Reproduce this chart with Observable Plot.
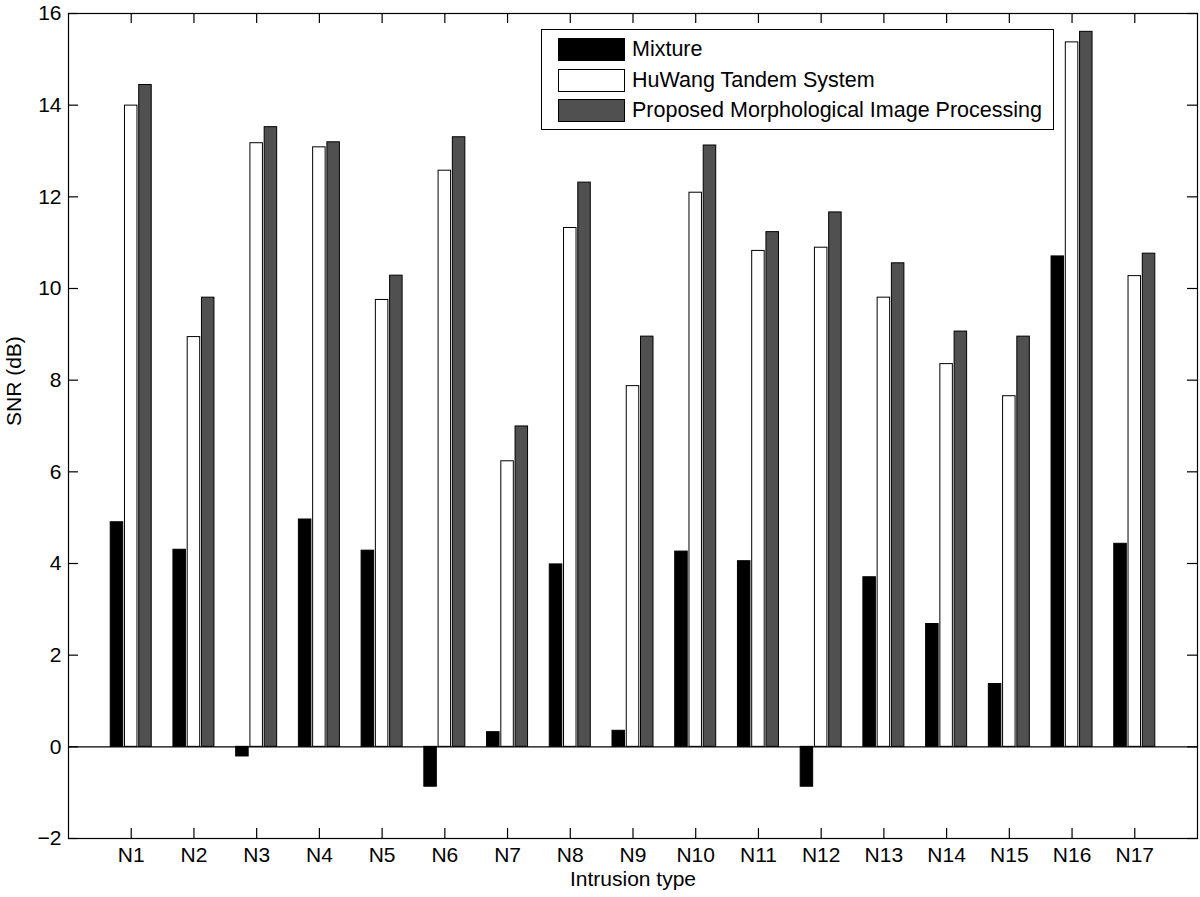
<!DOCTYPE html>
<html>
<head>
<meta charset="utf-8">
<script src="https://cdn.jsdelivr.net/npm/d3@7"></script>
<script src="https://cdn.jsdelivr.net/npm/@observablehq/plot@0.6"></script>
<style>
  html, body { margin: 0; padding: 0; background: #fff; }
  #wrap { position: relative; width: 1200px; height: 897px; font-family: "Liberation Sans", Arial, Helvetica, sans-serif; }
  #legend { position: absolute; left: 541px; top: 29px; width: 511px; height: 99px; border: 1px solid #000; background: #fff; box-sizing: content-box; }
  .row { position: absolute; left: 16px; height: 23px; display: flex; align-items: center; }
  .sw { width: 65px; height: 21px; border: 1px solid #000; margin-right: 7px; }
  .lab { font-size: 21.5px; color: #000; white-space: nowrap; }
</style>
</head>
<body>
<div id="wrap"></div>
<script>
// ---- data ----
const categories = ["N1","N2","N3","N4","N5","N6","N7","N8","N9","N10","N11","N12","N13","N14","N15","N16","N17"];
const seriesNames = ["Mixture", "HuWang Tandem System", "Proposed Morphological Image Processing"];
const mixture  = [4.90, 4.30, -0.21, 4.96, 4.28, -0.87, 0.32, 3.98, 0.35, 4.26, 4.05, -0.87, 3.70, 2.68, 1.37, 10.70, 4.43];
const huwang   = [13.99, 8.94, 13.17, 13.08, 9.75, 12.57, 6.23, 11.32, 7.87, 12.09, 10.82, 10.89, 9.80, 8.35, 7.65, 15.37, 10.27];
const proposed = [14.44, 9.80, 13.52, 13.19, 10.28, 13.30, 6.99, 12.31, 8.95, 13.12, 11.23, 11.66, 10.55, 9.06, 8.95, 15.60, 10.76];
const yTicks = [-2, 0, 2, 4, 6, 8, 10, 12, 14, 16];
const xLabel = "Intrusion type";
const yLabel = "SNR (dB)";
const fills = ["#000000", "#ffffff", "#505050"];

// ---- layout ----
const width = 1200, height = 897;
const marginLeft = 68, marginRight = 3, marginTop = 13, marginBottom = 59;
const plotW = width - marginLeft - marginRight;
const plotH = height - marginTop - marginBottom;
const tickLen = 10;
const groupBand = 41;           // px of each category band
const barW = 12.5;              // px of each bar
const insetsFor = [
  {insetLeft: 0, insetRight: groupBand - barW},
  {insetLeft: (groupBand - barW) / 2, insetRight: (groupBand - barW) / 2},
  {insetLeft: groupBand - barW, insetRight: 0}
];
const rowsOf = (vals) => categories.map((c, i) => ({type: c, value: vals[i]}));
const allSeries = [mixture, huwang, proposed];
const fs = 21;

const marks = [];
allSeries.forEach((vals, s) => {
  marks.push(Plot.barY(rowsOf(vals), {
    x: "type", y: "value",
    fill: fills[s], stroke: "#000", strokeWidth: 1,
    ...insetsFor[s]
  }));
});
marks.push(
  Plot.ruleY([0], {stroke: "#000", strokeWidth: 1.2}),
  // inward tick marks
  Plot.ruleY(yTicks, {stroke: "#000", strokeWidth: 1.2, insetRight: plotW - tickLen}),
  Plot.ruleY(yTicks, {stroke: "#000", strokeWidth: 1.2, insetLeft: plotW - tickLen}),
  Plot.ruleX(categories, {stroke: "#000", strokeWidth: 1.2, insetTop: plotH - tickLen}),
  Plot.ruleX(categories, {stroke: "#000", strokeWidth: 1.2, insetBottom: plotH - tickLen}),
  Plot.axisY({ticks: yTicks, tickSize: 0, tickPadding: 7, tickFormat: d3.format("d"), label: null, fontSize: fs}),
  Plot.axisX({tickSize: 0, tickPadding: 9, label: null, fontSize: fs}),
  Plot.frame({stroke: "#000", strokeWidth: 1.2}),
  Plot.text([xLabel], {frameAnchor: "bottom", dy: 47, fontSize: fs, fill: "#000"}),
  Plot.text([yLabel], {frameAnchor: "left", dx: -54, rotate: -90, fontSize: fs, fill: "#000"})
);

const step = plotW / 18;
const chart = Plot.plot({
  width, height, marginLeft, marginRight, marginTop, marginBottom,
  style: {fontFamily: '"Liberation Sans", Arial, Helvetica, sans-serif', fontSize: fs + "px", color: "#000", background: "#fff"},
  x: {type: "band", domain: categories, round: false,
      paddingInner: 1 - groupBand / step, paddingOuter: (2 - groupBand / step) / 2},
  y: {domain: [-2, 16]},
  marks
});

const wrap = document.getElementById("wrap");
wrap.appendChild(chart);

// legend
const legend = document.createElement("div");
legend.id = "legend";
seriesNames.forEach((name, i) => {
  const row = document.createElement("div");
  row.className = "row";
  row.style.top = (8 + i * 30.7) + "px";
  const sw = document.createElement("div");
  sw.className = "sw";
  sw.style.background = fills[i];
  const lab = document.createElement("span");
  lab.className = "lab";
  lab.textContent = name;
  row.appendChild(sw);
  row.appendChild(lab);
  legend.appendChild(row);
});
wrap.appendChild(legend);
</script>
</body>
</html>
